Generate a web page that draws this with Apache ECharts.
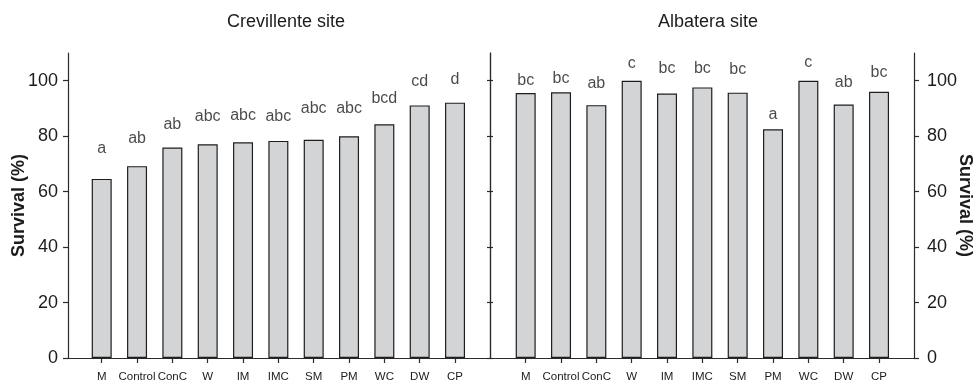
<!DOCTYPE html>
<html>
<head>
<meta charset="utf-8">
<script src="https://cdn.jsdelivr.net/npm/echarts@6/dist/echarts.min.js"></script>
<style>
html,body{margin:0;padding:0;background:#fff;}
#c{width:975px;height:384px;}
</style>
</head>
<body>
<div id="c"></div>
<script>
// ---- data ----
var categories = ['M','Control','ConC','W','IM','IMC','SM','PM','WC','DW','CP'];
var crevillenteValues = [64.6, 69.2, 75.9, 77.1, 77.8, 78.3, 78.7, 80.0, 84.3, 91.1, 92.1];
var crevillenteLetters = ['a','ab','ab','abc','abc','abc','abc','abc','bcd','cd','d'];
var crevillenteLetterY = [75.5, 79.1, 84.2, 87.1, 87.4, 87.1, 90.0, 89.8, 93.5, 99.7, 100.4];
var albateraValues = [95.6, 95.8, 91.2, 100, 95.4, 97.6, 95.7, 82.5, 100, 91.4, 96.0];
var albateraLetters = ['bc','bc','ab','c','bc','bc','bc','a','c','ab','bc'];
var albateraLetterY = [100.0, 100.8, 99.0, 106.2, 104.4, 104.4, 104.1, 87.8, 106.6, 99.4, 102.8];
var yTicks = [0, 20, 40, 60, 80, 100];
var panelTitles = ['Crevillente site', 'Albatera site'];
var yName = 'Survival (%)';

// ---- build ----
var FONT = '"Liberation Sans", Arial, Helvetica, sans-serif';
var TXT = '#1c1c1c';
var AX = '#2a2a2a';
var idx = categories.map(function(_, i){ return i; });

function xAxisFor(gridIndex, min, max) {
  return {
    type: 'value', gridIndex: gridIndex, min: min, max: max,
    splitLine: {show: false},
    axisLine: {show: true, onZero: false, lineStyle: {color: AX, width: 1.2}},
    axisTick: {show: true, length: 5, customValues: idx, lineStyle: {color: AX, width: 1.2}},
    axisLabel: {
      show: true, customValues: idx, margin: 13, hideOverlap: false,
      fontFamily: FONT, fontSize: 11.5, color: TXT,
      formatter: function(v){ return categories[Math.round(v)]; }
    }
  };
}
function yAxisFor(gridIndex, position, showLabels, withName, tickLen) {
  var a = {
    type: 'value', gridIndex: gridIndex, position: position,
    min: 0, max: 110,
    axisLine: {show: true, onZero: false, lineStyle: {color: AX, width: 1.2}},
    axisTick: {show: true, length: tickLen, customValues: yTicks, lineStyle: {color: AX, width: 1.2}},
    axisLabel: {show: showLabels, customValues: yTicks, margin: position === 'left' ? 10 : 13,
      fontFamily: FONT, fontSize: 18, color: TXT},
    splitLine: {show: false}
  };
  if (withName) {
    a.name = yName;
    a.nameLocation = 'middle';
    a.nameMoveOverlap = false;
    a.nameGap = position === 'left' ? 40 : 42;
    a.nameRotate = position === 'left' ? 90 : -90;
    a.nameTextStyle = {fontFamily: FONT, fontSize: 18, fontWeight: 'bold', color: TXT};
  }
  return a;
}
function barSeries(xi, yi, values) {
  return {
    type: 'bar', xAxisIndex: xi, yAxisIndex: yi,
    barWidth: 20,
    data: values.map(function(v, i){ return [i, v]; }),
    itemStyle: {color: '#d3d4d6', borderColor: '#1e1e1e', borderWidth: 1.2},
    silent: true, animation: false
  };
}
function letterSeries(xi, yi, ys, letters) {
  return {
    type: 'scatter', xAxisIndex: xi, yAxisIndex: yi,
    symbolSize: 0,
    data: ys.map(function(v, i){ return [i, v]; }),
    label: {
      show: true, position: 'inside',
      fontFamily: FONT, fontSize: 16, color: TXT,
      formatter: function(p){ return letters[p.dataIndex]; }
    },
    silent: true, animation: false
  };
}

var option = {
  backgroundColor: '#fff',
  animation: false,
  title: [
    {text: panelTitles[0], left: 281, top: 8, textAlign: 'center',
     textStyle: {fontFamily: FONT, fontSize: 18, fontWeight: 'normal', color: TXT}},
    {text: panelTitles[1], left: 703, top: 8, textAlign: 'center',
     textStyle: {fontFamily: FONT, fontSize: 18, fontWeight: 'normal', color: TXT}}
  ],
  grid: [
    {left: 68, right: 485, top: 53, bottom: 26, outerBoundsMode: 'none'},
    {left: 490, right: 61, top: 53, bottom: 26, outerBoundsMode: 'none'}
  ],
  xAxis: [
    xAxisFor(0, -0.954, 10.99),
    xAxisFor(1, -1.01, 10.99)
  ],
  yAxis: [
    yAxisFor(0, 'left', true, true, 5),
    yAxisFor(0, 'right', false, false, 3),
    yAxisFor(1, 'left', false, false, 3),
    yAxisFor(1, 'right', true, true, 5)
  ],
  series: [
    barSeries(0, 0, crevillenteValues),
    letterSeries(0, 0, crevillenteLetterY, crevillenteLetters),
    barSeries(1, 3, albateraValues),
    letterSeries(1, 3, albateraLetterY, albateraLetters)
  ]
};
var chart = echarts.init(document.getElementById('c'), null, {renderer: 'canvas'});
chart.setOption(option);
</script>
</body>
</html>
